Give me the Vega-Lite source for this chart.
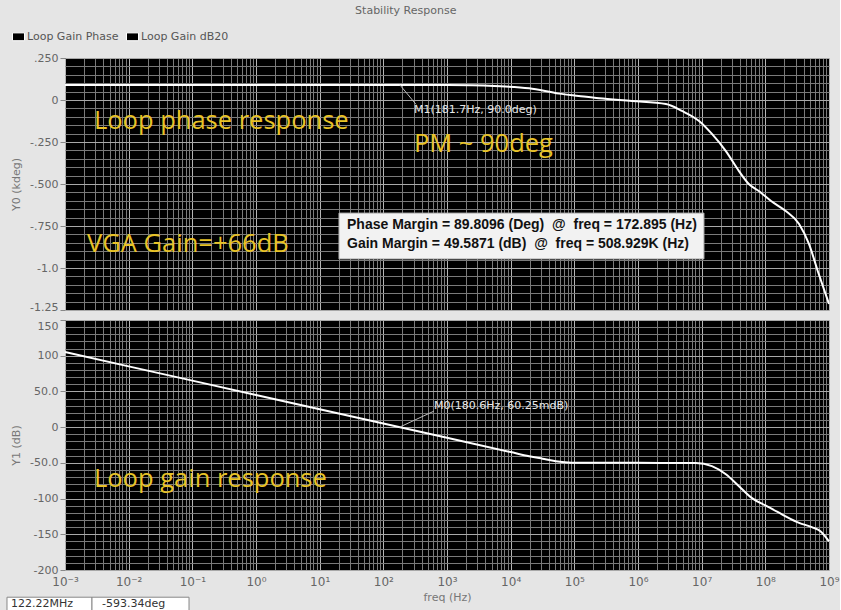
{
  "$schema": "https://vega.github.io/schema/vega-lite/v6.json",
  "padding": {"left": 6, "top": 5, "right": 0, "bottom": 0},
  "background": "#e5e5e5",
  "bounds": "flush",
  "title": {"text": "Stability Response", "fontSize": 11, "fontWeight": "normal", "color": "#666666", "anchor": "middle", "offset": 14, "dx": -17, "font": "DejaVu Sans"},
  "config": {
    "view": {"fill": "#000000", "stroke": null},
    "font": "DejaVu Sans",
    "axis": {"labelOverlap": false, "domain": false, "titleFontWeight": "normal", "titleFontSize": 11, "titleColor": "#777777", "labelColor": "#666666", "labelFontSize": 11, "gridWidth": 1, "tickCount": 500}
  },
  "vconcat": [
    {
      "width": 764,
      "height": 252,
      "layer": [
        {
          "data": {"values": [
            {"freq": 0.001, "kdeg": 0.09, "series": "Loop Gain Phase"},
            {"freq": 0.01, "kdeg": 0.09, "series": "Loop Gain Phase"},
            {"freq": 0.1, "kdeg": 0.09, "series": "Loop Gain Phase"},
            {"freq": 1, "kdeg": 0.09, "series": "Loop Gain Phase"},
            {"freq": 10, "kdeg": 0.09, "series": "Loop Gain Phase"},
            {"freq": 100, "kdeg": 0.09, "series": "Loop Gain Phase"},
            {"freq": 1000, "kdeg": 0.089, "series": "Loop Gain Phase"},
            {"freq": 5495, "kdeg": 0.083, "series": "Loop Gain Phase"},
            {"freq": 19500, "kdeg": 0.07, "series": "Loop Gain Phase"},
            {"freq": 57500, "kdeg": 0.038, "series": "Loop Gain Phase"},
            {"freq": 117000, "kdeg": 0.024, "series": "Loop Gain Phase"},
            {"freq": 245000, "kdeg": 0.01, "series": "Loop Gain Phase"},
            {"freq": 804000, "kdeg": -0.006, "series": "Loop Gain Phase"},
            {"freq": 2750000, "kdeg": -0.024, "series": "Loop Gain Phase"},
            {"freq": 4900000, "kdeg": -0.065, "series": "Loop Gain Phase"},
            {"freq": 9100000, "kdeg": -0.125, "series": "Loop Gain Phase"},
            {"freq": 14500000, "kdeg": -0.202, "series": "Loop Gain Phase"},
            {"freq": 24000000, "kdeg": -0.304, "series": "Loop Gain Phase"},
            {"freq": 38500000, "kdeg": -0.423, "series": "Loop Gain Phase"},
            {"freq": 55000000, "kdeg": -0.5, "series": "Loop Gain Phase"},
            {"freq": 79000000, "kdeg": -0.542, "series": "Loop Gain Phase"},
            {"freq": 123000000, "kdeg": -0.601, "series": "Loop Gain Phase"},
            {"freq": 209000000, "kdeg": -0.661, "series": "Loop Gain Phase"},
            {"freq": 339000000, "kdeg": -0.738, "series": "Loop Gain Phase"},
            {"freq": 484000000, "kdeg": -0.857, "series": "Loop Gain Phase"},
            {"freq": 690000000, "kdeg": -1.036, "series": "Loop Gain Phase"},
            {"freq": 1000000000, "kdeg": -1.214, "series": "Loop Gain Phase"}
          ]},
          "mark": {"type": "line", "strokeWidth": 2, "interpolate": "monotone"},
          "encoding": {
            "x": {"field": "freq", "type": "quantitative",
              "scale": {"type": "log", "domain": [0.001, 1000000000], "nice": false},
              "axis": {"title": null, "labels": false, "ticks": false, "labelOverlap": false, "tickCount": 500,
                "values": [0.001,0.002,0.003,0.004,0.005,0.006,0.007,0.008,0.009,0.01,0.02,0.03,0.04,0.05,0.06,0.07,0.08,0.09,0.1,0.2,0.3,0.4,0.5,0.6,0.7,0.8,0.9,1,2,3,4,5,6,7,8,9,10,20,30,40,50,60,70,80,90,100,200,300,400,500,600,700,800,900,1000,2000,3000,4000,5000,6000,7000,8000,9000,10000,20000,30000,40000,50000,60000,70000,80000,90000,100000,200000,300000,400000,500000,600000,700000,800000,900000,1000000,2000000,3000000,4000000,5000000,6000000,7000000,8000000,9000000,10000000,20000000,30000000,40000000,50000000,60000000,70000000,80000000,90000000,100000000,200000000,300000000,400000000,500000000,600000000,700000000,800000000,900000000,1000000000],
                "gridColor": {"condition": {"test": "abs(log(datum.value)/LN10 - round(log(datum.value)/LN10)) < 0.001", "value": "#b4b4b4"}, "value": "#7a7a7a"}}},
            "y": {"field": "kdeg", "type": "quantitative",
              "scale": {"domain": [-1.25, 0.25], "nice": false, "zero": false},
              "axis": {"title": "Y0 (kdeg)", "titleX": -44, "labelOverlap": false, "tickCount": 500,
                "values": [-1.25,-1.2,-1.15,-1.1,-1.05,-1,-0.95,-0.9,-0.85,-0.8,-0.75,-0.7,-0.65,-0.6,-0.55,-0.5,-0.45,-0.4,-0.35,-0.3,-0.25,-0.2,-0.15,-0.1,-0.05,0,0.05,0.1,0.15,0.2,0.25],
                "labelExpr": "datum.value == 0.25 ? '.250' : datum.value == 0 ? '0' : datum.value == -0.25 ? '-.250' : datum.value == -0.5 ? '-.500' : datum.value == -0.75 ? '-.750' : datum.value == -1 ? '-1.0' : datum.value == -1.25 ? '-1.25' : ''",
                "labelBaseline": {"condition": {"test": "datum.value == -1.25", "value": "alphabetic"}, "value": "middle"},
                "tickSize": 5, "labelPadding": 2,
                "tickColor": {"condition": {"test": "abs(datum.value*4 - round(datum.value*4)) < 0.001", "value": "#888888"}, "value": "transparent"},
                "gridColor": {"condition": {"test": "abs(datum.value*4 - round(datum.value*4)) < 0.001", "value": "#a8a8a8"}, "value": "#7a7a7a"}}},
            "color": {"field": "series", "type": "nominal",
              "scale": {"domain": ["Loop Gain Phase", "Loop Gain dB20"], "range": ["#ffffff", "#ffffff"]},
              "legend": {"orient": "none", "legendX": -53, "legendY": -28, "direction": "horizontal", "title": null,
                "symbolType": "M-1,-0.65L1,-0.65L1,0.65L-1,0.65Z", "symbolSize": 144, "labelFontSize": 11, "labelColor": "#555555",
                "columnPadding": 5, "labelOffset": 2, "padding": 0,
                "encode": {"symbols": {"update": {"fill": {"value": "#000000"}, "stroke": {"value": "#000000"}, "strokeWidth": {"value": 1}, "opacity": {"value": 1}}}}}}
          }
        },
        {
          "data": {"values": [{"f1": 181.7, "v1": 0.09, "f2": 326, "v2": -0.026}]},
          "mark": {"type": "rule", "color": "#bbbbbb", "strokeWidth": 1},
          "encoding": {
            "x": {"field": "f1", "type": "quantitative"},
            "y": {"field": "v1", "type": "quantitative"},
            "x2": {"field": "f2"},
            "y2": {"field": "v2"}
          }
        },
        {
          "data": {"values": [{"f": 303, "v": -0.061, "label": "M1(181.7Hz, 90.0deg)"}]},
          "mark": {"type": "text", "align": "left", "baseline": "middle", "color": "#e8e8e8", "fontSize": 11, "font": "DejaVu Sans"},
          "encoding": {
            "x": {"field": "f", "type": "quantitative"},
            "y": {"field": "v", "type": "quantitative"},
            "text": {"field": "label"}
          }
        },
        {
          "data": {"values": [
            {"f": 0.00285, "v": -0.125, "label": "Loop phase response"},
            {"f": 302, "v": -0.262, "label": "PM ~ 90deg"},
            {"f": 0.00222, "v": -0.857, "label": "VGA Gain=+66dB"}
          ]},
          "mark": {"type": "text", "align": "left", "baseline": "middle", "color": "#e8c327", "fontSize": 25.5, "font": "Open Sans"},
          "encoding": {
            "x": {"field": "f", "type": "quantitative"},
            "y": {"field": "v", "type": "quantitative"},
            "text": {"field": "label"}
          }
        },
        {
          "data": {"values": [{"f1": 20.1, "f2": 10870000, "v1": -0.673, "v2": -0.946}]},
          "mark": {"type": "rect", "fill": "#f2f2f2", "stroke": "#aaaaaa", "strokeWidth": 1},
          "encoding": {
            "x": {"field": "f1", "type": "quantitative"},
            "x2": {"field": "f2"},
            "y": {"field": "v1", "type": "quantitative"},
            "y2": {"field": "v2"}
          }
        },
        {
          "data": {"values": [
            {"f": 26.9, "v": -0.744, "label": "Phase Margin = 89.8096 (Deg)\u00a0 @ \u00a0freq = 172.895 (Hz)"},
            {"f": 26.9, "v": -0.857, "label": "Gain Margin = 49.5871 (dB)\u00a0 @ \u00a0freq = 508.929K (Hz)"}
          ]},
          "mark": {"type": "text", "align": "left", "baseline": "middle", "color": "#111111", "fontSize": 14, "fontWeight": "bold", "font": "Liberation Sans"},
          "encoding": {
            "x": {"field": "f", "type": "quantitative"},
            "y": {"field": "v", "type": "quantitative"},
            "text": {"field": "label"}
          }
        }
      ]
    },
    {
      "width": 764,
      "height": 250,
      "layer": [
        {
          "data": {"values": [
            {"freq": 0.001, "db": 105.1},
            {"freq": 0.01, "db": 85.1},
            {"freq": 0.1, "db": 65.1},
            {"freq": 1, "db": 45.1},
            {"freq": 10, "db": 25.1},
            {"freq": 100, "db": 5.1},
            {"freq": 1000, "db": -14.9},
            {"freq": 10000, "db": -34.9},
            {"freq": 19500, "db": -40.7},
            {"freq": 31600, "db": -44.2},
            {"freq": 51300, "db": -47.6},
            {"freq": 79400, "db": -49.4},
            {"freq": 100000, "db": -49.8},
            {"freq": 1000000, "db": -50},
            {"freq": 8100000, "db": -50.2},
            {"freq": 14500000, "db": -54.6},
            {"freq": 24000000, "db": -66},
            {"freq": 38500000, "db": -82.6},
            {"freq": 61700000, "db": -99.4},
            {"freq": 102000000, "db": -110},
            {"freq": 182000000, "db": -122},
            {"freq": 339000000, "db": -134},
            {"freq": 537000000, "db": -140},
            {"freq": 741000000, "db": -146},
            {"freq": 1000000000, "db": -160}
          ]},
          "mark": {"type": "line", "strokeWidth": 2, "interpolate": "monotone", "color": "#ffffff"},
          "encoding": {
            "x": {"field": "freq", "type": "quantitative",
              "scale": {"type": "log", "domain": [0.001, 1000000000], "nice": false},
              "axis": {"title": "freq (Hz)", "titlePadding": 4, "ticks": false, "labelFlush": false, "labelPadding": 6, "labelFontSize": 12, "labelOverlap": false, "tickCount": 500,
                "values": [0.001,0.002,0.003,0.004,0.005,0.006,0.007,0.008,0.009,0.01,0.02,0.03,0.04,0.05,0.06,0.07,0.08,0.09,0.1,0.2,0.3,0.4,0.5,0.6,0.7,0.8,0.9,1,2,3,4,5,6,7,8,9,10,20,30,40,50,60,70,80,90,100,200,300,400,500,600,700,800,900,1000,2000,3000,4000,5000,6000,7000,8000,9000,10000,20000,30000,40000,50000,60000,70000,80000,90000,100000,200000,300000,400000,500000,600000,700000,800000,900000,1000000,2000000,3000000,4000000,5000000,6000000,7000000,8000000,9000000,10000000,20000000,30000000,40000000,50000000,60000000,70000000,80000000,90000000,100000000,200000000,300000000,400000000,500000000,600000000,700000000,800000000,900000000,1000000000],
                "labelExpr": "abs(log(datum.value)/LN10 - round(log(datum.value)/LN10)) < 0.001 ? '10' + (round(log(datum.value)/LN10) < 0 ? '⁻' : '') + ['⁰','¹','²','³','⁴','⁵','⁶','⁷','⁸','⁹'][abs(round(log(datum.value)/LN10))] : ''",
                "gridColor": {"condition": {"test": "abs(log(datum.value)/LN10 - round(log(datum.value)/LN10)) < 0.001", "value": "#b4b4b4"}, "value": "#7a7a7a"}}},
            "y": {"field": "db", "type": "quantitative",
              "scale": {"domain": [-200, 150], "nice": false, "zero": false},
              "axis": {"title": "Y1 (dB)", "titleX": -44, "labelOverlap": false, "tickCount": 500,
                "values": [-200,-190,-180,-170,-160,-150,-140,-130,-120,-110,-100,-90,-80,-70,-60,-50,-40,-30,-20,-10,0,10,20,30,40,50,60,70,80,90,100,110,120,130,140,150],
                "labelExpr": "datum.value == 150 ? '150' : datum.value == 100 ? '100' : datum.value == 50 ? '50.0' : datum.value == 0 ? '0' : datum.value == -50 ? '-50.0' : datum.value == -100 ? '-100' : datum.value == -150 ? '-150' : datum.value == -200 ? '-200' : ''",
                "labelBaseline": {"condition": {"test": "datum.value == 150", "value": "top"}, "value": "middle"},
                "tickSize": 5, "labelPadding": 2,
                "tickColor": {"condition": {"test": "datum.value % 50 == 0", "value": "#888888"}, "value": "transparent"},
                "gridColor": {"condition": {"test": "datum.value % 50 == 0", "value": "#a8a8a8"}, "value": "#7a7a7a"}}}
          }
        },
        {
          "data": {"values": [{"f1": 180.6, "v1": 0.06, "f2": 623, "v2": 22.4}]},
          "mark": {"type": "rule", "color": "#bbbbbb", "strokeWidth": 1},
          "encoding": {
            "x": {"field": "f1", "type": "quantitative"},
            "y": {"field": "v1", "type": "quantitative"},
            "x2": {"field": "f2"},
            "y2": {"field": "v2"}
          }
        },
        {
          "data": {"values": [{"f": 623, "v": 29.4, "label": "M0(180.6Hz, 60.25mdB)"}]},
          "mark": {"type": "text", "align": "left", "baseline": "middle", "color": "#e8e8e8", "fontSize": 11, "font": "DejaVu Sans"},
          "encoding": {
            "x": {"field": "f", "type": "quantitative"},
            "y": {"field": "v", "type": "quantitative"},
            "text": {"field": "label"}
          }
        },
        {
          "data": {"values": [{"f": 0.00285, "v": -72.8, "label": "Loop gain response"}]},
          "mark": {"type": "text", "align": "left", "baseline": "middle", "color": "#e8c327", "fontSize": 25.5, "font": "Open Sans"},
          "encoding": {
            "x": {"field": "f", "type": "quantitative"},
            "y": {"field": "v", "type": "quantitative"},
            "text": {"field": "label"}
          }
        },
        {
          "data": {"values": [
            {"f1": 0.0001227, "f2": 0.002655, "v1": -238.1, "v2": -257.7},
            {"f1": 0.002655, "f2": 0.0887, "v1": -238.1, "v2": -257.7}
          ]},
          "mark": {"type": "rect", "fill": "#ffffff", "stroke": "#888888", "strokeWidth": 1, "clip": false},
          "encoding": {
            "x": {"field": "f1", "type": "quantitative"},
            "x2": {"field": "f2"},
            "y": {"field": "v1", "type": "quantitative"},
            "y2": {"field": "v2"}
          }
        },
        {
          "data": {"values": [
            {"f": 0.000142, "v": -247.9, "label": "122.22MHz"},
            {"f": 0.00381, "v": -247.9, "label": "-593.34deg"}
          ]},
          "mark": {"type": "text", "align": "left", "baseline": "middle", "color": "#333333", "fontSize": 11, "font": "DejaVu Sans", "clip": false},
          "encoding": {
            "x": {"field": "f", "type": "quantitative"},
            "y": {"field": "v", "type": "quantitative"},
            "text": {"field": "label"}
          }
        }
      ]
    }
  ],
  "spacing": 10
}
